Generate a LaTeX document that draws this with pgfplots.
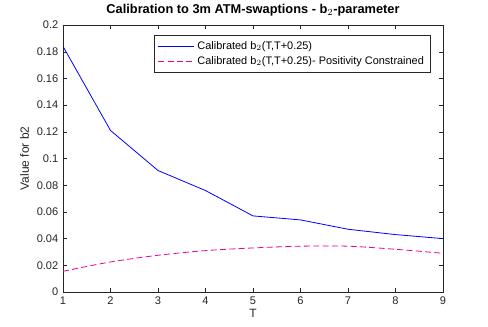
\documentclass[border=0pt]{standalone}
\usepackage{fontspec}
\setmainfont{Liberation Sans}
\usepackage{pgfplots}
\pgfplotsset{compat=1.18}
\definecolor{axgray}{RGB}{38,38,38}
\begin{document}
\begin{tikzpicture}
\path[use as bounding box,fill=white] (0,0) rectangle (366pt,245.25pt);
\begin{axis}[
  at={(47.25pt,26.25pt)}, anchor=south west,
  scale only axis, width=285pt, height=200.25pt,
  xmin=1, xmax=9, ymin=0, ymax=0.2,
  xtick={1,...,9},
  ytick={0,0.02,...,0.2},
  yticklabels={0,0.02,0.04,0.06,0.08,0.1,0.12,0.14,0.16,0.18,0.2},
  tick align=inside,
  axis line style={axgray},
  tick style={axgray},
  major tick length=3pt,
  tick label style={font=\fontsize{8.3}{10}\selectfont, text=axgray},
  /pgf/number format/assume math mode=true,
  xlabel={T}, ylabel={Value for b2},
  label style={font=\fontsize{9}{10}\selectfont, text=axgray},
  xlabel style={yshift=3pt},
  ylabel style={yshift=-1pt},
  title={\bfseries Calibration to 3m ATM-swaptions - b$_2$-parameter},
  title style={font=\fontsize{9.6}{11}\selectfont, yshift=-3pt},
  legend style={at={(0.968,0.9625)}, anchor=north east, draw=axgray,
    font=\fontsize{8.2}{10}\selectfont, cells={anchor=west},
    inner ysep=2.5pt},
  legend cell align=left,
]
% calibrated b2, unconstrained
\addplot[color=blue, line width=0.6pt, forget plot] coordinates {
  (1,0.184) (2,0.121) (3,0.091) (4,0.076) (5,0.057)
  (6,0.054) (7,0.047) (8,0.043) (9,0.040)};
\addlegendimage{legend image code/.code={\draw[blue, line width=0.6pt] (0pt,0pt) -- (27pt,0pt);}}
\addlegendentry{Calibrated b$_2$(T,T+0.25)}
% calibrated b2, positivity constrained
\addplot[color=magenta, dash pattern=on 4.5pt off 2.5pt, line width=0.6pt, smooth, forget plot] coordinates {
  (1,0.0155) (2,0.0225) (3,0.0275) (4,0.031) (5,0.033)
  (6,0.0343) (7,0.0343) (8,0.032) (9,0.029)};
\addlegendimage{legend image code/.code={\draw[magenta, dash pattern=on 4.5pt off 2.5pt, line width=0.6pt] (0pt,0pt) -- (27pt,0pt);}}
\addlegendentry{Calibrated b$_2$(T,T+0.25)- Positivity Constrained}
\end{axis}
\end{tikzpicture}
\end{document}
